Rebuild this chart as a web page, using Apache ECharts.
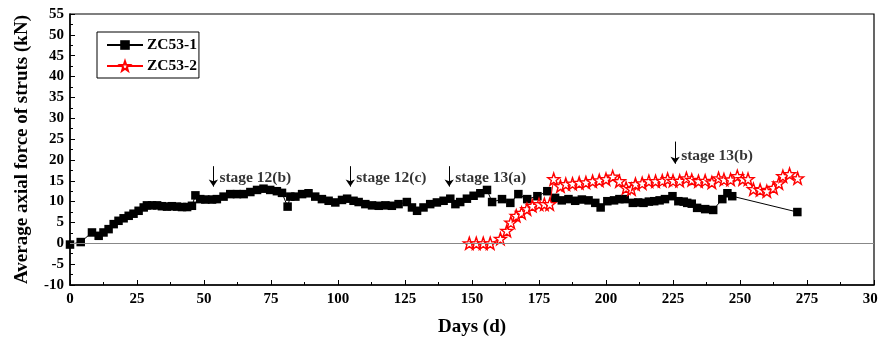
<!DOCTYPE html>
<html><head><meta charset="utf-8">
<script src="https://cdn.jsdelivr.net/npm/echarts@6/dist/echarts.min.js"></script>
<style>html,body{margin:0;padding:0;background:#fff}#c{width:878px;height:338px}</style>
</head><body><div id="c"></div>
<script>
const seriesNames = ['ZC53-1', 'ZC53-2'];
const days1 = [0,4,8.2,10.7,12.5,14.4,16.3,18.1,20,21.9,23.7,25.6,27.5,28.7,30.6,32.5,34.3,36.2,38,39.9,41.8,43.7,45.5,46.8,48.6,50.5,53,54.8,57.3,59.8,62.3,64.8,67.3,69.8,72.2,74.7,77.2,79.1,81.2,82.2,84.1,86.6,89,91.5,94,96.5,99,101.5,103.4,105.8,107.7,110.2,112.7,115.2,117.7,120.1,122.6,125.7,127.6,129.5,131.9,134.4,136.9,139.4,141.9,143.8,145.6,148.1,150.6,153.1,155.6,157.5,161.2,164.3,167.3,170.6,174.4,178.1,181,183.5,186,188.5,191,193.5,196,198,200.5,203,205,207,210,212,214,216,218,220,222,224.8,227,229,230.3,232,234,237,240,243.4,245.3,247.1,271.4];
const force1 = [-0.3,0.3,2.6,1.8,2.6,3.4,4.6,5.4,6,6.6,7.1,7.8,8.6,9.1,9.1,9.1,8.9,8.8,8.9,8.8,8.7,8.7,9.0,11.5,10.6,10.5,10.5,10.6,11.2,11.8,11.8,11.8,12.3,12.8,13.1,12.8,12.5,12.1,8.8,11.2,11.2,11.8,12,11.2,10.6,10.2,9.8,10.4,10.7,10.2,9.9,9.4,9.1,9.0,9.1,9.0,9.4,9.9,8.6,7.8,8.6,9.4,9.8,10.2,10.7,9.4,9.9,10.7,11.4,12,12.8,9.9,10.6,9.7,11.8,10.6,11.3,12.5,10.9,10.3,10.6,10.2,10.5,10.3,9.7,8.6,10.1,10.3,10.6,10.6,9.7,9.8,9.7,10,10.1,10.3,10.6,11.3,10.1,10,9.7,9.5,8.5,8.2,8,10.6,12,11.3,7.5];
const days2 = [149,151.6,154.2,156.8,160.6,163,164.5,166.5,168.5,170.5,172.5,175,177,179,180.5,183,185,187.5,190,192.5,195,197.5,200,202.5,205,207.5,209.5,211,213.5,216,218.5,221,223,225,227.5,230,232,234.5,237,239.5,242,244,246.5,249,251,253,255,257.5,260,262.5,264.5,266,268.5,271.5];
const force2 = [0,0,0,0,1.1,3,5,6.6,7.3,8.2,9,9.4,9.4,9.4,15.4,13.7,14.2,14.3,14.5,14.6,14.9,15.1,15.4,16,14.9,13.3,13,14.2,14.4,14.9,14.9,15,15.4,15,15,15.6,15.2,14.9,15,14.6,15.6,15.3,15.3,16.1,15.4,15.4,13,12.8,12.5,13.3,14.4,16.1,16.6,15.6];
const stageNames = ['stage 12(b)', 'stage 12(c)', 'stage 13(a)', 'stage 13(b)'];
const stageDays = [53.5, 104.6, 141.5, 225.8];
const stageArrowTop = [18.5, 18.5, 18.5, 24.4];
const stageArrowBottom = [13.6, 13.6, 13.6, 19.1];
const stageTextY = [15.6, 15.6, 15.6, 21];
const xTicks = [0, 25, 50, 75, 100, 125, 150, 175, 200, 225, 250, 275, 300];
const yTicks = [-10, -5, 0, 5, 10, 15, 20, 25, 30, 35, 40, 45, 50, 55];

const FONT = '"Liberation Serif", "Times New Roman", serif';
const starPath = 'path://M0,-10L2.35,-3.24L9.51,-3.09L3.8,1.24L5.88,8.09L0,4L-5.88,8.09L-3.8,1.24L-9.51,-3.09L-2.35,-3.24Z';
const zip = (a, b) => a.map((v, i) => [v, b[i]]);

const chart = echarts.init(document.getElementById('c'), null, {renderer: 'canvas'});
chart.setOption({
  animation: false,
  backgroundColor: '#fff',
  grid: {left: 70, right: 4, top: 14, bottom: 53, containLabel: false, outerBoundsMode: 'none',
    show: true, borderColor: '#000', borderWidth: 1.2, backgroundColor: 'transparent'},
  legend: {
    data: seriesNames,
    orient: 'vertical', left: 97, top: 32,
    borderColor: '#000', borderWidth: 1, borderRadius: 0,
    padding: [5, 2, 4, 9], itemGap: 5,
    itemWidth: 36, itemHeight: 12,
    textStyle: {fontFamily: FONT, fontWeight: 'bold', fontSize: 15.5, color: '#000', padding: [0, 0, 0, -1]}
  },
  xAxis: {
    type: 'value', min: xTicks[0], max: xTicks[xTicks.length - 1], interval: 25,
    name: 'Days (d)', nameLocation: 'middle', nameGap: 33,
    nameTextStyle: {fontFamily: FONT, fontWeight: 'bold', fontSize: 19, color: '#000'},
    axisLine: {onZero: false, lineStyle: {color: '#000', width: 1.5}},
    axisTick: {inside: true, length: 5, lineStyle: {color: '#000'}},
    minorTick: {show: true, splitNumber: 2, length: 3, lineStyle: {color: '#000'}},
    splitLine: {show: false},
    axisLabel: {fontFamily: FONT, fontWeight: 'bold', fontSize: 15, color: '#000', margin: 7}
  },
  yAxis: {
    type: 'value', min: yTicks[0], max: yTicks[yTicks.length - 1], interval: 5,
    name: 'Average axial force of struts (kN)', nameLocation: 'middle', nameGap: 38,
    nameTextStyle: {fontFamily: FONT, fontWeight: 'bold', fontSize: 19, color: '#000'},
    axisLine: {onZero: false, lineStyle: {color: '#000', width: 1.5}},
    axisTick: {inside: true, length: 5, lineStyle: {color: '#000'}},
    minorTick: {show: true, splitNumber: 2, length: 3, lineStyle: {color: '#000'}},
    splitLine: {show: false},
    axisLabel: {fontFamily: FONT, fontWeight: 'bold', fontSize: 15, color: '#000', margin: 6}
  },
  series: [
    {
      name: seriesNames[0], type: 'line', data: zip(days1, force1),
      symbol: 'rect', symbolSize: 8.5,
      itemStyle: {color: '#000'},
      lineStyle: {color: '#000', width: 1},
      z: 3,
      markLine: {
        silent: true, symbol: ['none', 'none'],
        label: {show: false},
        lineStyle: {color: '#888', width: 1, type: 'solid'},
        data: [{yAxis: 0}]
      }
    },
    {
      name: seriesNames[1], type: 'line', data: zip(days2, force2),
      symbol: starPath, symbolSize: 12,
      itemStyle: {color: '#fff', borderColor: '#ff0000', borderWidth: 1.4},
      lineStyle: {color: '#ff0000', width: 1},
      z: 4
    },
    {
      name: 'stages', type: 'scatter', data: stageDays.map((d, i) => ({value: [d, stageTextY[i]], name: stageNames[i]})),
      symbolSize: 0, silent: true,
      label: {show: true, position: 'right', distance: 6, formatter: p => p.name,
        fontFamily: FONT, fontWeight: 'bold', fontSize: 15.5, color: '#000'},
      markLine: {
        silent: true, symbol: ['none', 'arrow'], symbolSize: 7,
        label: {show: false},
        lineStyle: {color: '#000', width: 1, type: 'solid'},
        data: stageDays.map((d, i) => [{coord: [d, stageArrowTop[i]]}, {coord: [d, stageArrowBottom[i]]}])
      }
    }
  ]
});
</script>
</body></html>
